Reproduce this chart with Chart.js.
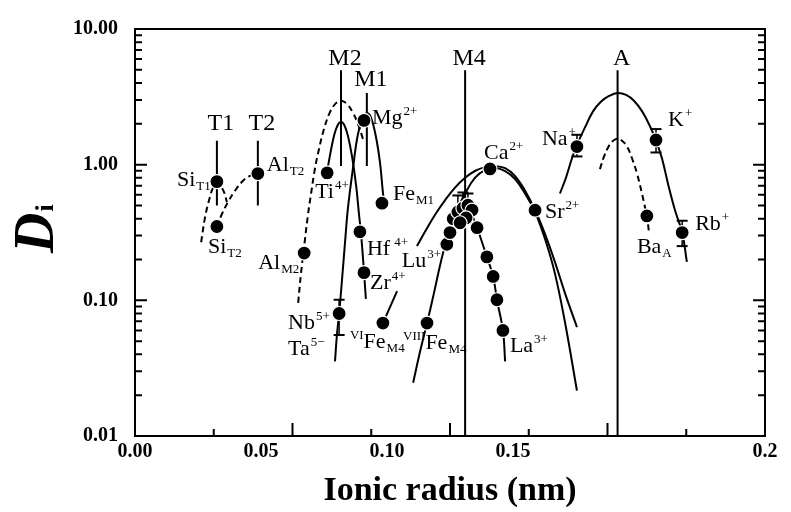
<!DOCTYPE html>
<html>
<head>
<meta charset="utf-8">
<script src="https://cdn.jsdelivr.net/npm/chart.js@4.4.0/dist/chart.umd.min.js"></script>
<style>
  html, body { margin: 0; background: #fff; }
  canvas { display: block; }
</style>
</head>
<body>
<canvas id="chart" width="791" height="512"></canvas>
<script>
// measured partition coefficients (x = ionic radius in nm, y = D)
const ionR = [0.0260, 0.0260, 0.0390, 0.0610, 0.0727, 0.0784, 0.0537, 0.0714, 0.0727, 0.0648, 0.0787, 0.0927,
              0.0990, 0.1000, 0.1010, 0.1025, 0.1041, 0.1057, 0.1070, 0.1051, 0.1032,
              0.1086, 0.1117, 0.1137, 0.1149, 0.1168,
              0.1127, 0.1270, 0.1403, 0.1654, 0.1625, 0.1737];
const ionD = [0.75, 0.35, 0.86, 0.87, 2.12, 0.52, 0.223, 0.32, 0.16, 0.080, 0.068, 0.068,
              0.259, 0.316, 0.399, 0.448, 0.478, 0.503, 0.463, 0.405, 0.373,
              0.343, 0.209, 0.150, 0.101, 0.060,
              0.93, 0.462, 1.36, 1.52, 0.419, 0.316];

// error bars
const errR  = [0.0648, 0.1403, 0.1654, 0.1737, 0.1025, 0.1041, 0.1057];
const errLo = [0.0555, 1.15, 1.23, 0.251, 0.338, 0.367, 0.412];
const errHi = [0.101, 1.66, 1.83, 0.386, 0.593, 0.624, 0.613];

// crystallographic sites (vertical lines)
const siteNames  = ['T1', 'T2', 'M2', 'M1', 'M4', 'A'];
const siteR      = [0.0260, 0.0390, 0.0654, 0.0736, 0.1048, 0.1532];
const siteTop    = [1.5, 1.5, 4.97, 3.38, 4.97, 4.97];
const siteBottom = [0.50, 0.50, 0.976, 0.976, 0.01, 0.01];

// lattice strain curves
const t1R = [0.0210, 0.0222, 0.0235, 0.0248, 0.0260, 0.0273, 0.0283, 0.0292];
const t1D = [0.268, 0.405, 0.546, 0.678, 0.736, 0.689, 0.624, 0.528];
const t2R = [0.0260, 0.0276, 0.0295, 0.0318, 0.0343, 0.0365, 0.0391];
const t2D = [0.349, 0.433, 0.528, 0.645, 0.761, 0.827, 0.855];
const m2dR = [0.0518, 0.0527, 0.0540, 0.0549, 0.0559, 0.0571, 0.0584, 0.0600, 0.0619, 0.0638, 0.0654, 0.0673, 0.0692, 0.0708, 0.0724];
const m2dD = [0.0959, 0.158, 0.286, 0.426, 0.613, 0.928, 1.30, 1.83, 2.44, 2.84, 2.96, 2.80, 2.41, 1.99, 1.54];
const m2sR = [0.0606, 0.0619, 0.0632, 0.0644, 0.0654, 0.0664, 0.0676, 0.0689, 0.0702, 0.0711, 0.0718, 0.0724, 0.0730, 0.0733];
const m2sD = [0.787, 1.17, 1.64, 1.97, 2.06, 1.97, 1.63, 1.15, 0.700, 0.433, 0.301, 0.202, 0.129, 0.1025];
const m1R = [0.0635, 0.0641, 0.0648, 0.0657, 0.0667, 0.0676, 0.0692, 0.0708, 0.0724, 0.0737, 0.0749, 0.0765, 0.0778, 0.0787, 0.0791];
const m1D = [0.0355, 0.0555, 0.080, 0.140, 0.272, 0.478, 0.944, 1.69, 2.23, 2.39, 2.23, 1.60, 1.025, 0.624, 0.528];
const feR = [0.0787, 0.0832];
const feD = [0.068, 0.117];
const m4aR = [0.0895, 0.0921, 0.0952, 0.0984, 0.1016, 0.1048, 0.1079, 0.1111, 0.1143, 0.1175, 0.1206, 0.1238, 0.1270, 0.1302, 0.1333, 0.1365, 0.1403];
const m4aD = [0.251, 0.321, 0.426, 0.546, 0.678, 0.800, 0.898, 0.959, 0.976, 0.944, 0.827, 0.645, 0.463, 0.306, 0.192, 0.113, 0.0634];
const m4bR = [0.0883, 0.0905, 0.0927, 0.0949, 0.0971, 0.0994, 0.1019, 0.1048, 0.1079, 0.1111, 0.1143, 0.1175, 0.1206, 0.1238, 0.1270, 0.1302, 0.1333, 0.1365, 0.1403];
const m4bD = [0.0247, 0.0419, 0.0678, 0.113, 0.192, 0.306, 0.448, 0.613, 0.800, 0.913, 0.944, 0.898, 0.787, 0.613, 0.448, 0.282, 0.158, 0.0689, 0.0216];
const reeR = [0.1064, 0.1086, 0.1117, 0.1137, 0.1149, 0.1168, 0.1175];
const reeD = [0.463, 0.343, 0.209, 0.150, 0.101, 0.060, 0.0355];
const aSolidR = [0.1349, 0.1368, 0.1387, 0.1403, 0.1429, 0.1454, 0.1479, 0.1505, 0.1532, 0.1559, 0.1584, 0.1610, 0.1635, 0.1654, 0.1673, 0.1692, 0.1714, 0.1737, 0.1752];
const aSolidD = [0.613, 0.800, 1.11, 1.40, 1.89, 2.47, 2.91, 3.21, 3.38, 3.27, 2.96, 2.47, 1.92, 1.50, 1.11, 0.724, 0.463, 0.316, 0.192];
const aDashR = [0.1476, 0.1489, 0.1505, 0.1518, 0.1532, 0.1546, 0.1562, 0.1578, 0.1594, 0.1610, 0.1625, 0.1632];
const aDashD = [0.928, 1.15, 1.38, 1.50, 1.55, 1.50, 1.36, 1.11, 0.855, 0.604, 0.412, 0.316];

// axis ticks
const yTicks = [0.01, 0.1, 1, 10];
const xTickValues = [0, 0.05, 0.10, 0.15, 0.25];
const xTickText = ['0.00', '0.05', '0.10', '0.15', '0.2'];

// labels attached to ions: index, prefix sup, base, sup, sub, pixel offset
const ionLabels = [
  { i: 0, base: 'Si', sub: 'T1', dx: -40, dy: 4 },
  { i: 1, base: 'Si', sub: 'T2', dx: -9, dy: 26 },
  { i: 2, base: 'Al', sub: 'T2', dx: 9, dy: -3 },
  { i: 3, base: 'Ti', sup: '4+', dx: -12, dy: 25 },
  { i: 4, base: 'Mg', sup: '2+', dx: 8, dy: 4 },
  { i: 5, base: 'Fe', sub: 'M1', dx: 11, dy: -3 },
  { i: 6, base: 'Al', sub: 'M2', dx: -46, dy: 16 },
  { i: 7, base: 'Hf', sup: ' 4+', dx: 7, dy: 23 },
  { i: 8, base: 'Zr', sup: '4+', dx: 6, dy: 16 },
  { i: 9, base: 'Nb', sup: '5+', dx: -51, dy: 16 },
  { i: 9, base: 'Ta', sup: '5\u2212', dx: -51, dy: 42 },
  { i: 10, pre: 'VI', base: 'Fe', sub: 'M4', dx: -33, dy: 25 },
  { i: 11, pre: 'VIII', base: 'Fe', sub: 'M4', dx: -24, dy: 26 },
  { i: 12, base: 'Lu', sup: '3+', dx: -45, dy: 23 },
  { i: 25, base: 'La', sup: '3+', dx: 7, dy: 22 },
  { i: 26, base: 'Ca', sup: '2+', dx: -6, dy: -10 },
  { i: 27, base: 'Sr', sup: '2+', dx: 10, dy: 8 },
  { i: 28, base: 'Na', sup: '+', dx: -35, dy: -2 },
  { i: 29, base: 'K', sup: '+', dx: 12, dy: -14 },
  { i: 30, base: 'Ba', sub: 'A', dx: -10, dy: 37 },
  { i: 31, base: 'Rb', sup: '+', dx: 13, dy: -3 }
];
const siteLift = [11, 11, 5, 7, 5, 5];

const SERIF = '"Liberation Serif", "Times New Roman", serif';

function pts(r, d) { return r.map((v, i) => ({ x: v, y: d[i] })); }

function curve(r, d, dashed) {
  return {
    data: pts(r, d), showLine: true, borderColor: '#000', borderWidth: 2,
    borderDash: dashed ? [6, 4] : [], pointRadius: 0, tension: 0.4, order: 2
  };
}

function gapped(r, a, b) {
  const out = [];
  r.forEach((v, i) => { out.push({ x: v, y: a[i] }, { x: v, y: b[i] }, { x: v, y: null }); });
  return out;
}

const datasets = [
  { data: pts(ionR, ionD), pointRadius: 7, pointBackgroundColor: '#000',
    pointBorderColor: '#fff', pointBorderWidth: 1.2, order: 0 },
  { data: gapped(errR, errLo, errHi), showLine: true, borderColor: '#000', borderWidth: 1.5,
    pointStyle: 'line', pointRadius: 5.5, pointBorderColor: '#000', pointBorderWidth: 2, tension: 0, order: 1 },
  curve(t1R, t1D, true),
  curve(t2R, t2D, true),
  curve(m2dR, m2dD, true),
  curve(m2sR, m2sD, false),
  curve(m1R, m1D, false),
  curve(feR, feD, false),
  curve(m4aR, m4aD, false),
  curve(m4bR, m4bD, false),
  curve(reeR, reeD, false),
  curve(aSolidR, aSolidD, false),
  curve(aDashR, aDashD, true),
  { data: gapped(siteR, siteTop, siteBottom), showLine: true, borderColor: '#000', borderWidth: 2,
    pointRadius: 0, tension: 0, order: 3 }
];

function drawIonLabel(ctx, px, py, l) {
  let cx = px;
  if (l.pre) {
    ctx.font = '13px ' + SERIF;
    ctx.fillText(l.pre, cx, py - 9);
    cx += ctx.measureText(l.pre).width;
  }
  ctx.font = '22px ' + SERIF;
  ctx.fillText(l.base, cx, py);
  cx += ctx.measureText(l.base).width + 1;
  ctx.font = '13px ' + SERIF;
  if (l.sup) ctx.fillText(l.sup, cx, py - 9);
  if (l.sub) ctx.fillText(l.sub, cx, py + 4);
}

const decor = {
  id: 'decor',
  afterDatasetsDraw(chart) {
    const { ctx, chartArea: a, scales: { x, y } } = chart;
    ctx.save();
    ctx.fillStyle = '#000';
    ctx.strokeStyle = '#000';
    ctx.textAlign = 'left';
    ctx.textBaseline = 'alphabetic';

    ionLabels.forEach(l => {
      const px = x.getPixelForValue(ionR[l.i]) + l.dx;
      const py = y.getPixelForValue(ionD[l.i]) + l.dy;
      drawIonLabel(ctx, px, py, l);
    });

    ctx.font = '24px ' + SERIF;
    ctx.textAlign = 'center';
    siteNames.forEach((n, i) => {
      ctx.fillText(n, x.getPixelForValue(siteR[i]) + 4, y.getPixelForValue(siteTop[i]) - siteLift[i]);
    });

    // frame
    ctx.lineWidth = 2;
    ctx.strokeRect(a.left, a.top, a.right - a.left, a.bottom - a.top);

    // inward ticks
    ctx.beginPath();
    for (let e = -2; e <= 0; e++) {
      for (let m = 1; m <= 9; m++) {
        const py = y.getPixelForValue(m * Math.pow(10, e));
        const len = m === 1 ? 12 : 7;
        ctx.moveTo(a.left, py); ctx.lineTo(a.left + len, py);
        ctx.moveTo(a.right, py); ctx.lineTo(a.right - len, py);
      }
    }
    for (let k = 1; k < 8; k++) {
      const px = x.getPixelForValue(k * 0.025);
      const len = k % 2 === 0 ? 13 : 7;
      ctx.moveTo(px, a.bottom); ctx.lineTo(px, a.bottom - len);
    }
    ctx.stroke();

    // y title D_i
    ctx.translate(53, 253);
    ctx.rotate(-Math.PI / 2);
    ctx.textAlign = 'left';
    ctx.font = 'italic bold 56px ' + SERIF;
    ctx.fillText('D', 0, 0);
    const w = ctx.measureText('D').width;
    ctx.font = 'bold 26px ' + SERIF;
    ctx.fillText('i', w + 1, 0);
    ctx.restore();
  }
};

const tickFont = { family: SERIF, size: 20, weight: 'bold' };

new Chart(document.getElementById('chart'), {
  type: 'scatter',
  data: { datasets },
  options: {
    responsive: false,
    animation: false,
    devicePixelRatio: 1,
    layout: { padding: { left: 0, right: 26, top: 20, bottom: 0 } },
    plugins: { legend: { display: false }, tooltip: { enabled: false } },
    scales: {
      x: { type: 'linear', display: false, min: 0, max: 0.2 },
      x2: {
        type: 'linear', position: 'bottom', min: 0, max: 0.25,
        grid: { display: false, drawTicks: false }, border: { display: false },
        afterBuildTicks: s => { s.ticks = xTickValues.map(v => ({ value: v })); },
        ticks: {
          callback: v => xTickText[xTickValues.indexOf(v)],
          font: tickFont, color: '#000', padding: 4, maxRotation: 0, autoSkip: false
        },
        title: {
          display: true, text: 'Ionic radius (nm)', color: '#000',
          font: { family: SERIF, size: 34, weight: 'bold' }, padding: { top: 0, bottom: 0 }
        },
        afterFit: s => { s.height = 76; }
      },
      y: {
        type: 'logarithmic', min: 0.01, max: 10,
        grid: { display: false, drawTicks: false }, border: { display: false },
        afterBuildTicks: s => { s.ticks = yTicks.map(v => ({ value: v })); },
        ticks: { callback: v => Number(v).toFixed(2), font: tickFont, color: '#000', padding: 17, autoSkip: false },
        afterFit: s => { s.width = 135; }
      }
    }
  },
  plugins: [decor]
});
</script>
</body>
</html>
